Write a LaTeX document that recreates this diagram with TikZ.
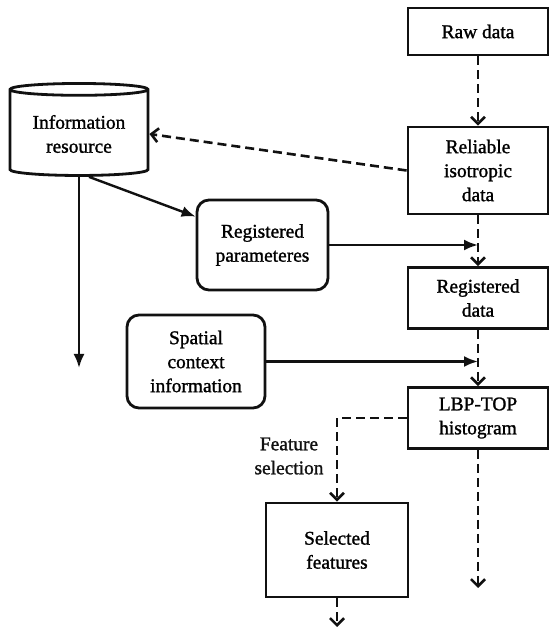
\documentclass[tikz,border=0pt]{standalone}
\usepackage{fontspec}
\setmainfont{Liberation Serif}
\newfontfamily\diagfont{Liberation Serif}[FakeBold=1.3]
\usepackage{xcolor}
\usepackage{tikz}
\usetikzlibrary{arrows.meta,positioning,shapes.geometric,calc}
\definecolor{ink}{HTML}{111111}
\definecolor{paperbg}{HTML}{FFFFFF}
\tikzset{
  flow diagram/.style={
    x=1pt, y=1pt,
    font=\diagfont\fontsize{19.4}{24}\selectfont,
    line cap=butt,
    line join=miter
  },
  stagebox/.style={
    draw=ink,
    line width=2.8pt,
    align=center,
    fill=paperbg,
    inner sep=3pt
  },
  roundbox/.style={stagebox, rounded corners=12pt},
  storebox/.style={
    stagebox,
    cylinder,
    shape border rotate=90,
    aspect=0.12
  },
  steplabel/.style={align=center, inner sep=1pt, text=ink},
  mainarrow/.style={-{Latex[length=14pt,width=11pt]}, draw=ink, line width=2.4pt},
  dasharrow/.style={-{Straight Barb[length=7pt,width=14pt,line width=2.6pt]}, draw=ink, line width=2.6pt, dash pattern=on 9pt off 5pt}
}
\begin{document}
\begin{tikzpicture}[flow diagram]
\useasboundingbox (0,0) rectangle (552,632);
% right column
\node[stagebox, minimum width=140pt, minimum height=47pt] (raw) at (478,600.5) {Raw data};
\node[stagebox, minimum width=140pt, minimum height=87pt] (reliable) at (478,461.5) {Reliable\\isotropic\\data};
\node[stagebox, minimum width=140pt, minimum height=61pt] (regdata) at (478,334) {Registered\\data};
\node[stagebox, minimum width=140pt, minimum height=61pt] (lbptop) at (478,214) {LBP-TOP\\histogram};
\node[stagebox, minimum width=142pt, minimum height=94pt] (selected) at (337,82) {Selected\\features};
% left side
\node[storebox, minimum width=138pt, minimum height=92pt] (info) at (79,498) {Information\\resource};
\node[roundbox, minimum width=131pt, minimum height=90pt] (regparam) at (262.5,387) {Registered\\parameteres};
\node[roundbox, minimum width=138pt, minimum height=93pt] (spatial) at (196,270.5) {Spatial\\context\\information};
\node[steplabel] (featsel) at (289,176) {Feature\\selection};
\coordinate (infoend) at (79,264);
\coordinate (lbpend) at (478,44);
\coordinate (selend) at (337,5);

\draw[dasharrow] (raw) -- (reliable);
\draw[dasharrow] (reliable.west) -- (info.east);
\draw[dasharrow] (reliable) -- (regdata);
\draw[dasharrow] (regdata) -- (lbptop);
\draw[dasharrow] (lbptop.west) -| (selected.north);
\draw[dasharrow] (lbptop) -- (lbpend);
\draw[dasharrow] (selected) -- (selend);
\draw[mainarrow] (info.south) -- (infoend);
\draw[mainarrow] ([xshift=10pt]info.south) -- ([yshift=-18pt]regparam.north west);
\draw[mainarrow] (regparam.east) -- (regparam.east -| regdata.north);
\draw[mainarrow] (spatial.east) -- (spatial.east -| lbptop.north);
\end{tikzpicture}
\end{document}
